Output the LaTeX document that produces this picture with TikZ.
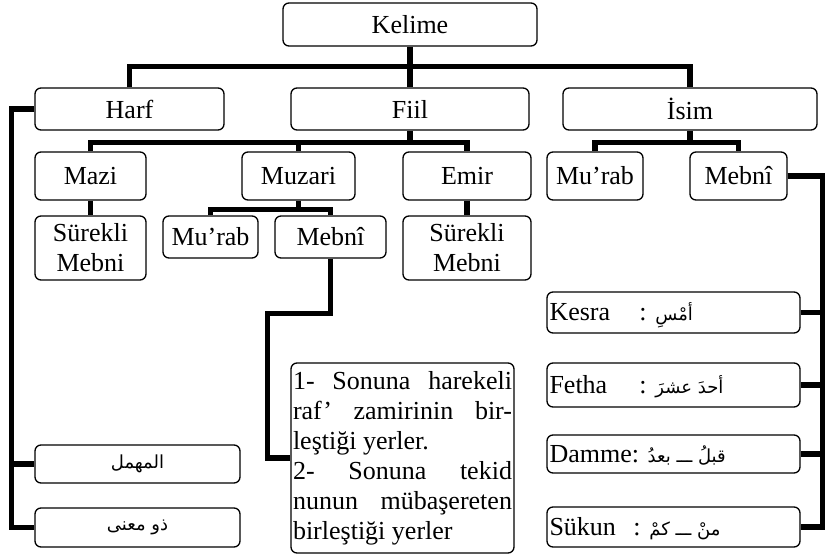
\documentclass[tikz,border=0pt]{standalone}
\usepackage{fontspec}
\setmainfont{Liberation Serif}
\newfontfamily\arabicfont[Script=Arabic]{DejaVu Sans}
\TeXXeTstate=1
\newcommand{\arabi}[1]{{\arabicfont\fontsize{18}{20}\selectfont\beginR #1\endR}}

\begin{document}
\begin{tikzpicture}[
      x=1pt, y=1pt,
      b/.style={draw, rounded corners=6pt, line width=1.3pt, inner sep=2pt, font=\fontsize{26}{30}\selectfont, align=center},
      bl/.style={b, minimum width=253pt, text height=18pt, text depth=2pt},
      e/.style={line width=5.5pt}
    ]
      \useasboundingbox (0,0) rectangle (825,-557);

      \node[b, minimum width=254pt, minimum height=43pt] (kelime) at (410,-24.5) {Kelime};
      \node[b, minimum width=189pt, minimum height=42pt] (harf) at (129.5,-109) {Harf};
      \node[b, minimum width=238pt, minimum height=42pt] (fiil) at (410,-109) {Fiil};
      \node[b, minimum width=254pt, minimum height=42pt] (isim) at (690,-109) {İsim};

      \node[b, minimum width=111pt, minimum height=48pt] (mazi) at (90.5,-176) {Mazi};
      \node[b, minimum width=113pt, minimum height=48pt] (muzari) at (298.5,-176) {Muzari};
      \node[b, minimum width=128pt, minimum height=48pt] (emir) at (467,-176) {Emir};
      \node[b, minimum width=96pt, minimum height=48pt] (imurab) at (595,-176) {Mu’rab};
      \node[b, minimum width=97pt, minimum height=48pt] (imebni) at (738.5,-176) {Mebnî};

      \node[b, minimum width=111pt, minimum height=64pt] (mazisb) at (90.5,-248) {Sürekli\\Mebni};
      \node[b, minimum width=95pt, minimum height=42pt] (murab) at (210.5,-237) {Mu’rab};
      \node[b, minimum width=111pt, minimum height=42pt] (mmebni) at (330.5,-237) {Mebnî};
      \node[b, minimum width=128pt, minimum height=64pt] (emirsb) at (467,-248) {Sürekli\\Mebni};

      \node[b, text width=219pt, align=justify, minimum height=190pt] (kural) at (402.5,-458)
        {1- Sonuna harekeli\linebreak raf’ zamirinin bir-\linebreak leştiği yerler.\\
         2- Sonuna tekid\linebreak nunun mübaşereten\linebreak birleştiği yerler};

      \node[b, minimum width=205pt, minimum height=38pt] (muhmel) at (137.5,-464) {\arabi{المهمل}};
      \node[b, minimum width=205pt, minimum height=39pt] (zumana) at (137.5,-527.5) {\arabi{ذو معنى}};

      \node[bl, minimum height=41pt] (kesra) at (673.5,-312.5)
        {\makebox[248pt][l]{\makebox[90pt][l]{Kesra}: \arabi{أمْسِ}}};
      \node[bl, minimum height=44pt] (fetha) at (673.5,-385)
        {\makebox[248pt][l]{\makebox[90pt][l]{Fetha}: \arabi{أحدَ عشرَ}}};
      \node[bl, minimum height=38pt] (damme) at (673.5,-454)
        {\makebox[248pt][l]{Damme: \arabi{قبلُ ـــ بعدُ}}};
      \node[bl, minimum height=40pt] (sukun) at (673.5,-527)
        {\makebox[248pt][l]{\makebox[84pt][l]{Sükun}: \arabi{منْ ـــ كمْ}}};

      \draw[e] (kelime) -- (fiil);
      \draw[e] (harf.north) -- ++(0,21) -| (isim.north);
      \draw[e] (fiil.south) -- ++(0,-13);
      \draw[e] (mazi.north) -- ++(0,9) -| (emir.north);
      \draw[e] (muzari.north) -- ++(0,9);
      \draw[e] (isim.south) -- ++(0,-13);
      \draw[e] (imurab.north) -- ++(0,9) -| (imebni.north);
      \draw[e] (mazi) -- (mazisb);
      \draw[e] (emir) -- (emirsb);
      \draw[e] (muzari.south) -- ++(0,-10);
      \draw[e] (murab.north) -- ++(0,6) -| (mmebni.north);
      \draw[e] (mmebni.south) -- ++(0,-55) -- ++(-63,0) |- (kural.west);
      \foreach \k in {muhmel,zumana}
        \draw[e] (harf.west) -- ++(-23,0) |- (\k.west);
      \foreach \k in {kesra,fetha,damme,sukun}
        \draw[e] (imebni.east) -- ++(35,0) |- (\k.east);
    \end{tikzpicture}
\end{document}
